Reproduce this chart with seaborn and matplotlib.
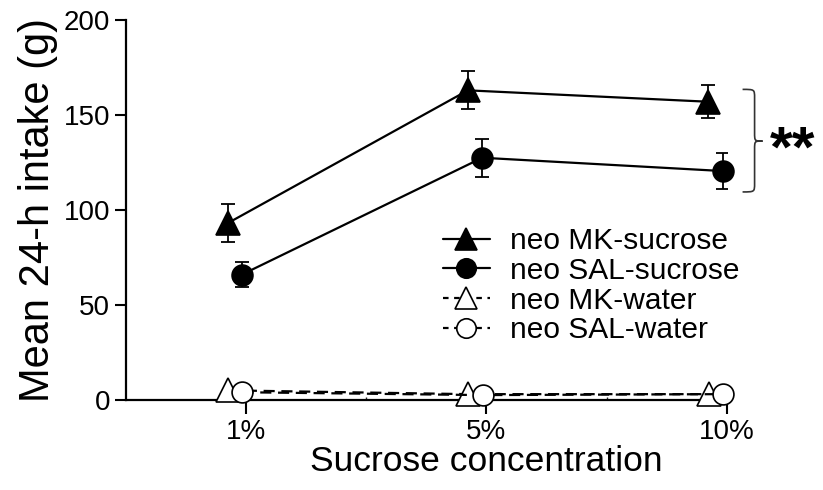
import matplotlib
matplotlib.use("Agg")
import matplotlib.pyplot as plt
from matplotlib.path import Path
from matplotlib.patches import PathPatch
from matplotlib.lines import Line2D
import seaborn as sns
import pandas as pd
import numpy as np

# ---- data ----
concentrations = ["1%", "5%", "10%"]
mk_sucrose = [93, 163, 157]
mk_sucrose_sem = [10, 10, 8.7]
sal_sucrose = [66, 127.5, 120.5]
sal_sucrose_sem = [6.6, 10, 9.5]
mk_water = [5, 3, 3]
sal_water = [4, 2.5, 3]
series_labels = ["neo MK-sucrose", "neo SAL-sucrose", "neo MK-water", "neo SAL-water"]

sns.set_theme(style="ticks")
plt.rcParams["font.family"] = ["Liberation Sans", "DejaVu Sans"]
plt.rcParams["text.color"] = "black"
plt.rcParams["axes.labelcolor"] = "black"

fig = plt.figure(figsize=(8.23, 4.90), dpi=100)
ax = fig.add_axes([0.153, 0.184, 0.730, 0.775])

idx = np.arange(len(concentrations))
rows = []
for lab, vals in zip(series_labels, [mk_sucrose, sal_sucrose, mk_water, sal_water]):
    for i, v in enumerate(vals):
        rows.append({"series": lab, "conc": i, "value": v})
df = pd.DataFrame(rows)

dodge = {"neo MK-sucrose": -0.077, "neo SAL-sucrose": -0.017,
         "neo MK-water": -0.075, "neo SAL-water": -0.015}
df["x"] = df["conc"] + df["series"].map(dodge)

styles = {
    "neo MK-sucrose": dict(marker="^", ms=17, mfc="black", ls="-"),
    "neo SAL-sucrose": dict(marker="o", ms=15, mfc="black", ls="-"),
    "neo MK-water": dict(marker="^", ms=17, mfc="white", ls=(0, (5, 3))),
    "neo SAL-water": dict(marker="o", ms=15, mfc="white", ls=(0, (5, 3))),
}
sems = {"neo MK-sucrose": mk_sucrose_sem, "neo SAL-sucrose": sal_sucrose_sem}

for lab in ["neo MK-water", "neo SAL-water", "neo MK-sucrose", "neo SAL-sucrose"]:
    sub = df[df["series"] == lab]
    st = styles[lab]
    if lab in sems:
        ax.errorbar(sub["x"], sub["value"], yerr=sems[lab], fmt="none",
                    ecolor="black", elinewidth=1.3, capsize=5, capthick=1.3,
                    zorder=2)
    sns.lineplot(data=sub, x="x", y="value", ax=ax, color="black",
                 marker=st["marker"], markersize=st["ms"],
                 markerfacecolor=st["mfc"], markeredgecolor="black",
                 markeredgewidth=1.2, linewidth=1.6, linestyle=st["ls"],
                 legend=False, zorder=3, clip_on=False, sort=False)

leg_handles = [
    Line2D([], [], color="black", lw=1.6,
           ls=styles[l]["ls"] if "water" not in l else (0, (2.5, 2.5)),
           marker=styles[l]["marker"], markersize=styles[l]["ms"] - 1,
           markerfacecolor=styles[l]["mfc"], markeredgecolor="black",
           markeredgewidth=1.2)
    for l in series_labels
]
leg = ax.legend(leg_handles, series_labels, loc="upper left",
                bbox_to_anchor=(0.527, 0.455), frameon=False, fontsize=21.5,
                handlelength=1.6, handletextpad=0.65, labelspacing=0.06,
                borderpad=0, borderaxespad=0)
for t in leg.get_texts():
    t.set_color("black")

ax.set_xlim(-0.5, 2.0)
ax.set_ylim(0, 200)
ax.set_xticks(idx)
ax.set_xticklabels(concentrations)
ax.set_xticks([0.5, 1.5], minor=True)
ax.set_yticks([0, 50, 100, 150, 200])
ax.tick_params(axis="both", which="major", direction="out", width=1.5,
               color="black", labelsize=20, labelcolor="black")
ax.tick_params(axis="x", which="major", length=10)
ax.tick_params(axis="y", which="major", length=8)
ax.tick_params(axis="x", which="minor", direction="in", length=2, width=1)
for s in ["left", "bottom"]:
    ax.spines[s].set_linewidth(1.6)
    ax.spines[s].set_color("black")
sns.despine(ax=ax)

ax.set_xlabel("Sucrose concentration", fontsize=25.5, color="black")
ax.xaxis.set_label_coords(0.6, -0.118, transform=ax.transAxes)
ax.xaxis.label.set_va("top")
ax.set_ylabel("Mean 24-h intake (g)", fontsize=30, color="black", labelpad=4)

# significance brace
x0, x1, x2 = 2.066, 2.116, 2.149
ytop, ymid, ybot = 163.5, 136.3, 109.5
r = 4.5
verts = [
    (x0, ytop), (x1, ytop), (x1, ytop), (x1, ytop - r),
    (x1, ymid + r),
    (x1, ymid), (x1, ymid), (x2, ymid),
    (x1, ymid), (x1, ymid), (x1, ymid - r),
    (x1, ybot + r),
    (x1, ybot), (x1, ybot), (x0, ybot),
]
codes = [Path.MOVETO, Path.CURVE4, Path.CURVE4, Path.CURVE4,
         Path.LINETO,
         Path.CURVE4, Path.CURVE4, Path.CURVE4,
         Path.CURVE4, Path.CURVE4, Path.CURVE4,
         Path.LINETO,
         Path.CURVE4, Path.CURVE4, Path.CURVE4]
ax.add_patch(PathPatch(Path(verts, codes), fill=False, edgecolor="#333333",
                       lw=1.2, clip_on=False))
ax.text(2.178, 130.5, "**", fontsize=42, fontweight="bold", ha="left",
        va="center", color="black", clip_on=False)

fig.savefig("out.png", dpi=100)
